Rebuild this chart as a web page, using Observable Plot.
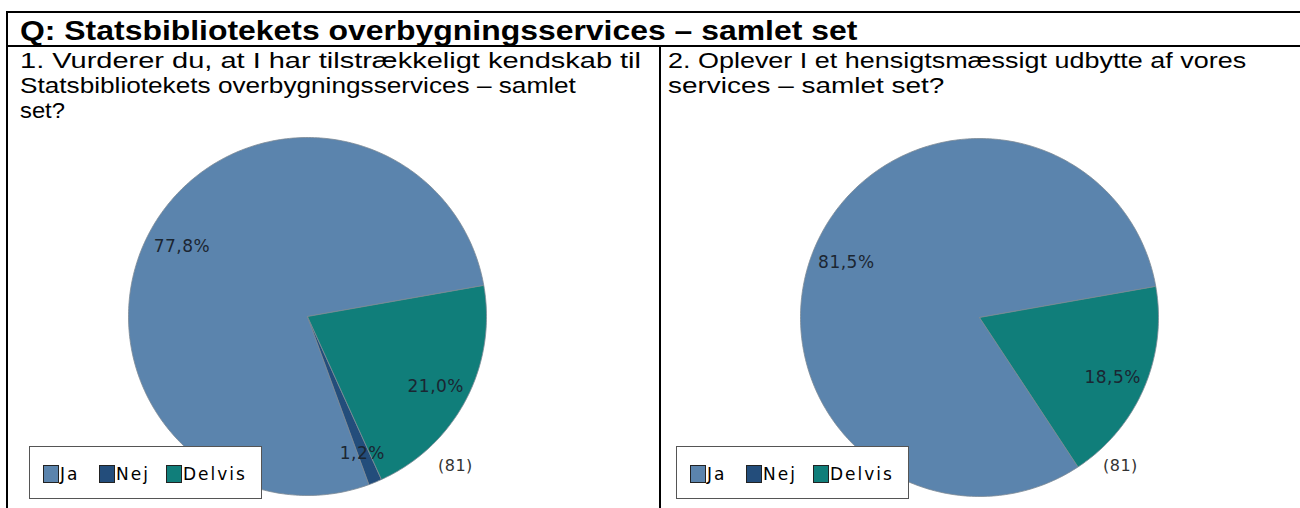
<!DOCTYPE html>
<html>
<head>
<meta charset="utf-8">
<script src="https://cdn.jsdelivr.net/npm/d3@7"></script>
<script src="https://cdn.jsdelivr.net/npm/@observablehq/plot@0.6"></script>
<style>
  html, body { margin: 0; padding: 0; background: #fff; }
  #page { position: relative; width: 1300px; height: 508px; overflow: hidden; font-family: "Liberation Sans", Arial, sans-serif; color: #000; }
  .rule { position: absolute; background: #000; }
  .title { position: absolute; left: 20px; top: 15px; font-size: 28px; font-weight: bold; line-height: 32px; white-space: nowrap;
           transform: scaleX(1.14); transform-origin: 0 0; }
  .sub { position: absolute; top: 48px; font-size: 22px; line-height: 25px; white-space: nowrap; }
  .sub span { display: block; width: max-content; transform-origin: 0 0; }
  .pie { position: absolute; }
  .legend { position: absolute; width: 233px; height: 53px; border: 1px solid #555; background: #fff; box-sizing: border-box;
            font-family: "DejaVu Sans", sans-serif; font-size: 17px; letter-spacing: 2px; color: #000; }
  .legend .item { position: absolute; top: 18px; height: 18px; line-height: 18px; }
  .legend .sw { display: inline-block; width: 14px; height: 16px; border: 1px solid #222; vertical-align: top; margin-right: 1px; }
  .count { position: absolute; font-family: "DejaVu Sans", sans-serif; font-size: 16px; color: #333; letter-spacing: 0.5px; }
</style>
</head>
<body>
<div id="page"></div>
<script>
// ---- data ----
const mainTitle = "Q: Statsbibliotekets overbygningsservices – samlet set";
const questionLines1 = ["1. Vurderer du, at I har tilstrækkeligt kendskab til", "Statsbibliotekets overbygningsservices – samlet", "set?"];
const questionLines2 = ["2. Oplever I et hensigtsmæssigt udbytte af vores", "services – samlet set?"];
const categories = ["Ja", "Nej", "Delvis"];
const values1 = [77.8, 1.2, 21.0];
const values2 = [81.5, 0, 18.5];
const respondents = [81, 81];

// ---- styles ----
const colors = ["#5b84ad", "#234d7b", "#107e7a"];
const lineStretch1 = [1.318, 1.19, 1.08];
const lineStretch2 = [1.225, 1.27];
const startAngle = 80; // degrees clockwise from north, slices run counterclockwise

const page = document.getElementById("page");
function rule(l, t, w, h) {
  const d = document.createElement("div");
  d.className = "rule";
  Object.assign(d.style, {left: l + "px", top: t + "px", width: w + "px", height: h + "px"});
  page.appendChild(d);
}
rule(6, 11, 1294, 2);
rule(6, 45, 1294, 2);
rule(6, 11, 2, 497);
rule(659, 45, 2, 463);

const t = document.createElement("div");
t.className = "title";
t.textContent = mainTitle;
page.appendChild(t);

function sub(lines, stretch, left) {
  const d = document.createElement("div");
  d.className = "sub";
  d.style.left = left + "px";
  lines.forEach((s, i) => {
    const sp = document.createElement("span");
    sp.textContent = s;
    sp.style.transform = `scaleX(${stretch[i]})`;
    d.appendChild(sp);
  });
  page.appendChild(d);
}
sub(questionLines1, lineStretch1, 20);
sub(questionLines2, lineStretch2, 668);

const fmt = v => v.toFixed(1).replace(".", ",") + "%";

function pie(values, left, top) {
  const total = d3.sum(values);
  let cum = 0;
  const pts = [];
  const labels = [];
  values.forEach((v, i) => {
    const a0 = startAngle - cum / total * 360;
    cum += v;
    const a1 = startAngle - cum / total * 360;
    if (v <= 0) return;
    const steps = Math.max(2, Math.ceil(Math.abs(a1 - a0) / 1));
    pts.push({cat: categories[i], x: 0, y: 0});
    for (let k = 0; k <= steps; k++) {
      const a = (a0 + (a1 - a0) * k / steps) * Math.PI / 180;
      pts.push({cat: categories[i], x: Math.sin(a), y: Math.cos(a)});
    }
    pts.push({cat: categories[i], x: 0, y: 0});
    const m = ((a0 + a1) / 2) * Math.PI / 180;
    labels.push({cat: categories[i], x: 0.81 * Math.sin(m), y: 0.81 * Math.cos(m) - 0.015, text: fmt(v)});
  });
  const svg = Plot.plot({
    width: 362, height: 362,
    margin: 2,
    x: {domain: [-1, 1], axis: null},
    y: {domain: [-1, 1], axis: null},
    color: {domain: categories, range: colors},
    style: {background: "transparent", overflow: "visible"},
    marks: [
      Plot.line(pts, {x: "x", y: "y", z: "cat", fill: "cat", stroke: "#7d8a96", strokeWidth: 0.8, strokeLinejoin: "miter"}),
      Plot.text(labels, {x: "x", y: "y", text: "text", fill: "#1b2632", fontSize: 17, fontFamily: "DejaVu Sans"})
    ]
  });
  svg.classList.add("pie");
  svg.style.left = left + "px";
  svg.style.top = top + "px";
  svg.querySelectorAll("text").forEach(e => e.setAttribute("letter-spacing", "0.5"));
  page.appendChild(svg);
}
pie(values1, 126, 135);
pie(values2, 798, 136);

function legend(left) {
  const box = document.createElement("div");
  box.className = "legend";
  box.style.left = left + "px";
  box.style.top = "446px";
  const offs = [13, 69, 136];
  categories.forEach((c, i) => {
    const it = document.createElement("div");
    it.className = "item";
    it.style.left = offs[i] + "px";
    const sw = document.createElement("span");
    sw.className = "sw";
    sw.style.background = colors[i];
    it.appendChild(sw);
    it.appendChild(document.createTextNode(c));
    box.appendChild(it);
  });
  page.appendChild(box);
}
legend(29);
legend(676);

function count(n, left) {
  const d = document.createElement("div");
  d.className = "count";
  d.style.left = left + "px";
  d.style.top = "456px";
  d.textContent = "(" + n + ")";
  page.appendChild(d);
}
count(respondents[0], 438);
count(respondents[1], 1103);
</script>
</body>
</html>
